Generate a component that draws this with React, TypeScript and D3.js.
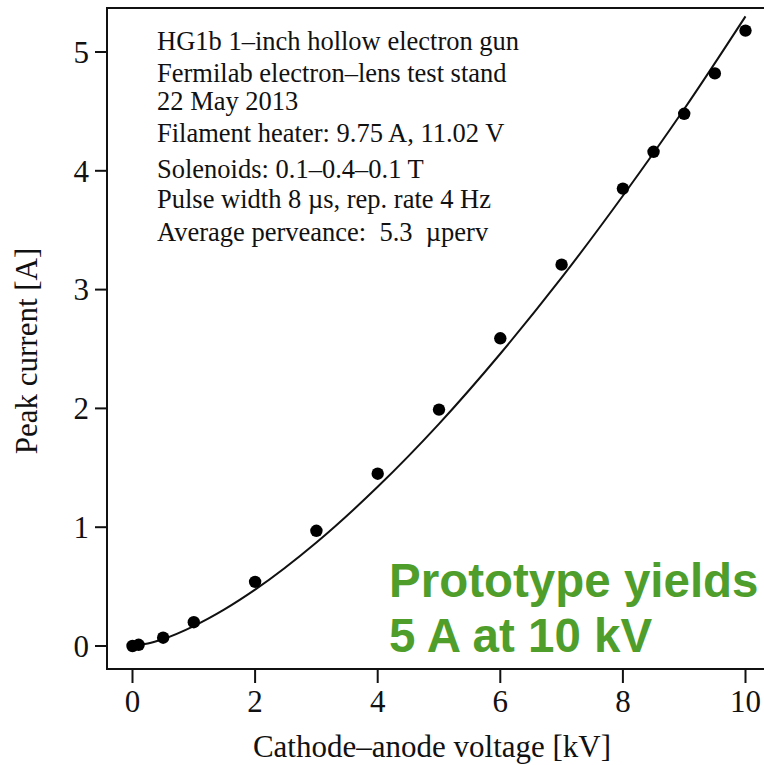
import React from "react";
import * as d3 from "d3";

const voltageKV = [0, 0.1, 0.5, 1, 2, 3, 4, 5, 6, 7, 8, 8.5, 9, 9.5, 10];
const peakCurrentA = [0, 0.01, 0.07, 0.2, 0.54, 0.97, 1.45, 1.99, 2.59, 3.21, 3.85, 4.16, 4.48, 4.82, 5.18];

const fitVoltageKV = [0, 0.25, 0.5, 1, 1.5, 2, 3, 4, 5, 6, 7, 8, 9, 10];
const fitCurrentA = [0, 0.021, 0.059, 0.168, 0.308, 0.474, 0.871, 1.34, 1.87, 2.46, 3.1, 3.79, 4.52, 5.3];

const xTicks = [0, 2, 4, 6, 8, 10];
const yTicks = [0, 1, 2, 3, 4, 5];

const infoLines = [
  "HG1b 1\u2013inch hollow electron gun",
  "Fermilab electron\u2013lens test stand",
  "22 May 2013",
  "Filament heater: 9.75 A, 11.02 V",
  "Solenoids: 0.1\u20130.4\u20130.1 T",
  "Pulse width 8 \u00b5s, rep. rate 4 Hz",
  "Average perveance:  5.3  \u00b5perv",
];
const infoBaselines = [50, 82, 110, 142, 178, 208, 241];

const highlightLines = ["Prototype yields", "5 A at 10 kV"];

export default function App() {
  const W = 764, H = 765;
  const x = d3.scaleLinear().domain([0, 10]).range([132.5, 745.5]);
  const y = d3.scaleLinear().domain([0, 5]).range([646, 52]);
  const frame = { left: 107, top: 8, right: 790, bottom: 669 };
  const serif = "'Liberation Serif', 'Times New Roman', serif";

  const line = d3
    .line<number>()
    .x((_, i) => x(fitVoltageKV[i]))
    .y((d) => y(d))
    .curve(d3.curveMonotoneX);

  return (
    <div style={{ position: "absolute", left: 0, top: 0 }}>
      <svg width={W} height={H} style={{ display: "block", background: "#fff" }}>
        <rect x={0} y={0} width={W} height={H} fill="#fff" />
        <rect
          x={frame.left}
          y={frame.top}
          width={frame.right - frame.left}
          height={frame.bottom - frame.top}
          fill="none"
          stroke="#111"
          strokeWidth={2}
        />
        {yTicks.map((t) => (
          <g key={"y" + t}>
            <line x1={95} x2={frame.left} y1={y(t)} y2={y(t)} stroke="#111" strokeWidth={2} />
            <text
              x={89}
              y={y(t)}
              dy="0.35em"
              textAnchor="end"
              fontFamily={serif}
              fontSize={31}
              fill="#111"
            >
              {t}
            </text>
          </g>
        ))}
        {xTicks.map((t) => (
          <g key={"x" + t}>
            <line x1={x(t)} x2={x(t)} y1={frame.bottom} y2={683} stroke="#111" strokeWidth={2} />
            <text x={x(t)} y={712} textAnchor="middle" fontFamily={serif} fontSize={31} fill="#111">
              {t}
            </text>
          </g>
        ))}
        <text x={432} y={757} textAnchor="middle" fontFamily={serif} fontSize={31} fill="#111">
          Cathode{"\u2013"}anode voltage [kV]
        </text>
        <text
          transform={`translate(37,351) rotate(-90)`}
          textAnchor="middle"
          fontFamily={serif}
          fontSize={31}
          fill="#111"
        >
          Peak current [A]
        </text>
        <path d={line(fitCurrentA) || ""} fill="none" stroke="#111" strokeWidth={2} />
        {voltageKV.map((v, i) => (
          <circle key={i} cx={x(v)} cy={y(peakCurrentA[i])} r={6.2} fill="#000" />
        ))}
        {infoLines.map((s, i) => (
          <text
            key={i}
            x={157}
            y={infoBaselines[i]}
            fontFamily={serif}
            fontSize={26.5}
            fill="#111"
            style={{ whiteSpace: "pre" }}
          >
            {s}
          </text>
        ))}
        {highlightLines.map((s, i) => (
          <text
            key={i}
            x={389}
            y={597 + i * 55}
            fontFamily="'Liberation Sans', Arial, sans-serif"
            fontWeight="bold"
            fontSize={47.5}
            fill="#4f9d2a"
          >
            {s}
          </text>
        ))}
      </svg>
    </div>
  );
}
